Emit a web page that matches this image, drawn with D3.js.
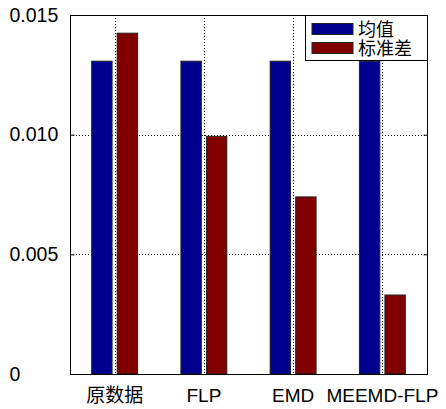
<!DOCTYPE html>
<html>
<head>
<meta charset="utf-8">
<script src="https://cdn.jsdelivr.net/npm/d3@7"></script>
<style>
  html, body { margin: 0; padding: 0; background: #fff; }
  svg { display: block; }
  text { font-family: "Liberation Sans", Arial, "Noto Sans CJK SC", sans-serif; fill: #000; }
</style>
</head>
<body>
<svg id="chart" width="446" height="409"></svg>
<script>
// Categories and the two series (mean, standard deviation)
const categories = ["原数据", "FLP", "EMD", "MEEMD-FLP"];
const seriesNames = ["均值", "标准差"];
const meanValues = [0.01307, 0.01307, 0.01307, 0.01307];
const stdValues = [0.01424, 0.00993, 0.00740, 0.00330];
const yTickValues = [0, 0.005, 0.010, 0.015];
const yTickLabels = ["0", "0.005", "0.010", "0.015"];
const seriesColors = ["#00008F", "#800000"];

const svg = d3.select("#chart");
const plot = { left: 70, right: 427, top: 15, bottom: 374 };

const x = d3.scaleBand().domain(categories).range([plot.left, plot.right]).padding(0);
const groupW = x.bandwidth() * 0.5714;
const xSub = d3.scaleBand().domain(seriesNames)
  .range([-groupW / 2, groupW / 2]).paddingInner(0.2).paddingOuter(0.1);
const y = d3.scaleLinear().domain([0, 0.015]).range([plot.bottom, plot.top]);
const color = d3.scaleOrdinal().domain(seriesNames).range(seriesColors);

// Dotted grid, behind the bars
const grid = svg.append("g").attr("stroke", "#000").attr("stroke-width", 1)
  .attr("stroke-dasharray", "1,2").attr("fill", "none");
grid.selectAll("line.h").data(yTickValues.filter(v => v > 0 && v < 0.015)).join("line")
  .attr("class", "h")
  .attr("x1", plot.left).attr("x2", plot.right)
  .attr("y1", d => Math.round(y(d)) + 0.5).attr("y2", d => Math.round(y(d)) + 0.5);
grid.selectAll("line.v").data(categories).join("line")
  .attr("class", "v")
  .attr("x1", d => Math.round(x(d) + x.bandwidth() / 2) + 0.5)
  .attr("x2", d => Math.round(x(d) + x.bandwidth() / 2) + 0.5)
  .attr("y1", plot.top).attr("y2", plot.bottom);

// Grouped bars
const rows = categories.map((c, i) => ({
  category: c,
  values: [
    { series: seriesNames[0], value: meanValues[i] },
    { series: seriesNames[1], value: stdValues[i] }
  ]
}));
const groups = svg.append("g").selectAll("g").data(rows).join("g")
  .attr("transform", d => `translate(${x(d.category) + x.bandwidth() / 2},0)`);
groups.selectAll("rect").data(d => d.values).join("rect")
  .attr("x", d => xSub(d.series))
  .attr("width", xSub.bandwidth())
  .attr("y", d => y(d.value))
  .attr("height", d => y(0) - y(d.value))
  .attr("fill", d => color(d.series))
  .attr("stroke", "#222").attr("stroke-width", 1);

// Frame
svg.append("rect")
  .attr("x", plot.left + 0.5).attr("y", plot.top + 0.5)
  .attr("width", plot.right - plot.left).attr("height", plot.bottom - plot.top)
  .attr("fill", "none").attr("stroke", "#000").attr("stroke-width", 1);

// Y axis with inward ticks, labels left-aligned
const yAxis = d3.axisLeft(y).tickValues(yTickValues)
  .tickFormat((d, i) => yTickLabels[i]).tickSizeInner(-4).tickSizeOuter(0);
const yg = svg.append("g").attr("transform", `translate(${plot.left + 0.5},0)`).call(yAxis);
yg.select(".domain").remove();
yg.selectAll(".tick line").attr("stroke", "#000");
yg.selectAll(".tick text")
  .attr("x", 9 - plot.left).attr("text-anchor", "start")
  .attr("font-size", 19.5).attr("font-family", "'Liberation Sans', Arial, sans-serif");
// matching ticks on the right edge
const yAxisR = d3.axisRight(y).tickValues(yTickValues).tickFormat("").tickSizeInner(-4).tickSizeOuter(0);
const ygr = svg.append("g").attr("transform", `translate(${plot.right + 0.5},0)`).call(yAxisR);
ygr.select(".domain").remove();

// X axis labels
const xAxis = d3.axisBottom(x).tickSizeInner(0).tickSizeOuter(0).tickPadding(0);
const xg = svg.append("g").attr("transform", `translate(0,${plot.bottom})`).call(xAxis);
xg.select(".domain").remove();
xg.selectAll(".tick text")
  .attr("y", 28).attr("dy", 0)
  .attr("font-size", 19)
  .attr("font-family", "'Liberation Sans', Arial, 'Noto Sans CJK SC', sans-serif");

// Legend
const legend = svg.append("g");
legend.append("rect")
  .attr("x", 305.5).attr("y", 15.5).attr("width", 122).attr("height", 45)
  .attr("fill", "#fff").attr("stroke", "#000").attr("stroke-width", 1);
const items = legend.selectAll("g.item").data(seriesNames).join("g").attr("class", "item")
  .attr("transform", (d, i) => `translate(0,${i * 19})`);
items.append("rect")
  .attr("x", 312).attr("y", 23.5).attr("width", 41).attr("height", 11)
  .attr("fill", d => color(d)).attr("stroke", "#222").attr("stroke-width", 1);
items.append("text")
  .attr("x", 358).attr("y", 35.5)
  .attr("font-size", 18)
  .attr("font-family", "'Noto Sans CJK SC', sans-serif")
  .text(d => d);
</script>
</body>
</html>
